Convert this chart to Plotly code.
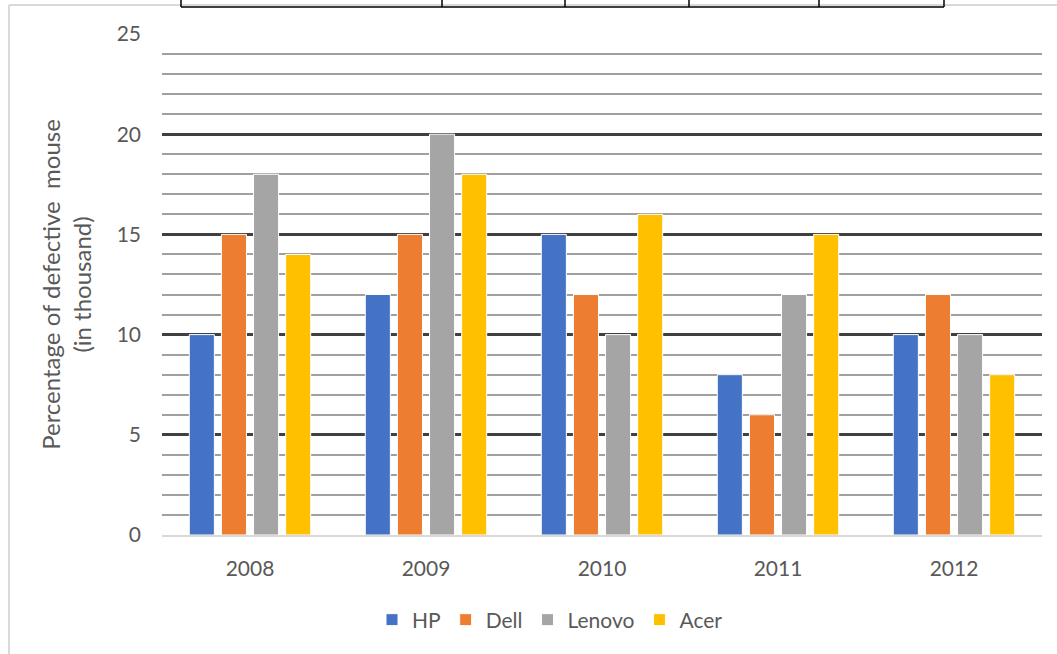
import plotly.graph_objects as go

years = ["2008", "2009", "2010", "2011", "2012"]
hp = [10, 12, 15, 8, 10]
dell = [15, 15, 12, 6, 12]
lenovo = [18, 20, 10, 12, 10]
acer = [14, 18, 16, 15, 8]
series_names = ["HP", "Dell", "Lenovo", "Acer"]
series_colors = ["#4472C4", "#ED7D31", "#A5A5A5", "#FFC000"]

FONT = "Lato"
TXT = "#595959"

fig = go.Figure()
for name, vals, col in zip(series_names, [hp, dell, lenovo, acer], series_colors):
    fig.add_trace(go.Bar(x=years, y=vals, name=name,
                         marker=dict(color=col, line=dict(color="white", width=1))))

W, H = 1057, 654
L, R, T, B = 162, 15, 34, 119
pw, ph = W - L - R, H - T - B


def px(x):
    return (x - L) / pw


def py(y):
    return (H - B - y) / ph


shapes = []
# outer chart frame (top and left)
shapes.append(dict(type="line", xref="paper", yref="paper", x0=px(9), x1=px(1057), y0=py(5), y1=py(5),
                   line=dict(color="#d9d9d9", width=2)))
shapes.append(dict(type="line", xref="paper", yref="paper", x0=px(9), x1=px(9), y0=py(5), y1=py(660),
                   line=dict(color="#d9d9d9", width=2)))
# table fragment at top
shapes.append(dict(type="line", xref="paper", yref="paper", x0=px(181), x1=px(944), y0=py(7), y1=py(7),
                   line=dict(color="black", width=1.5)))
for xv in [181, 442, 565, 689, 819, 944]:
    shapes.append(dict(type="line", xref="paper", yref="paper", x0=px(xv), x1=px(xv), y0=py(-2), y1=py(7),
                       line=dict(color="black", width=1.5)))

fig.update_layout(
    width=W, height=H,
    margin=dict(l=L, r=R, t=T, b=B, autoexpand=False),
    paper_bgcolor="white", plot_bgcolor="white",
    barmode="group", bargap=0.27, bargroupgap=0.22,
    font=dict(family=FONT, color=TXT, size=21),
    showlegend=True,
    legend=dict(orientation="h", x=px(372), xanchor="left", y=py(620), yanchor="middle",
                font=dict(size=21, color=TXT), itemwidth=30, traceorder="normal"),
    shapes=shapes,
    xaxis=dict(showgrid=False, showline=True, linecolor="#d9d9d9", linewidth=2,
               ticks="", ticklabelstandoff=14, tickfont=dict(size=21, color=TXT)),
    yaxis=dict(range=[0, 25], dtick=5, tick0=0, showgrid=True, gridcolor="#404040", gridwidth=3,
               zeroline=False, showline=False, ticks="", ticklabelstandoff=20,
               tickfont=dict(size=21, color=TXT),
               minor=dict(dtick=1, showgrid=True, gridcolor="#a0a0a0", gridwidth=2),
               title=dict(text="Percentage of defective  mouse<br>(in thousand)",
                          font=dict(size=24, color=TXT), standoff=18)),
)

fig.write_html("out.html")
